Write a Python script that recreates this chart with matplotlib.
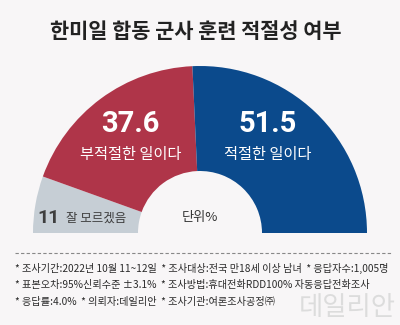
import matplotlib
matplotlib.use('Agg')
import matplotlib.pyplot as plt
from matplotlib.patches import Wedge

plt.rcParams['font.family'] = ['Noto Sans CJK KR', 'DejaVu Sans']

# dataset
labels = ['잘 모르겠음', '부적절한 일이다', '적절한 일이다']
values = [11, 37.6, 51.5]
colors = ['#C6CED5', '#AF3549', '#0B4A8C']
title = '한미일 합동 군사 훈련 적절성 여부'
notes = [
    '* 조사기간:2022년 10월 11~12일  * 조사대상:전국 만18세 이상 남녀  * 응답자수:1,005명',
    '* 표본오차:95%신뢰수준 ±3.1%  * 조사방법:휴대전화RDD100% 자동응답전화조사',
    '* 응답률:4.0%  * 의뢰자:데일리안  * 조사기관:여론조사공정㈜',
]

bg = '#F8F6F7'
fig = plt.figure(figsize=(4, 3.25), dpi=100, facecolor=bg)
ax = fig.add_axes([0, 0, 1, 1])
ax.set_xlim(0, 400)
ax.set_ylim(0, 325)
ax.set_aspect('equal')
ax.axis('off')

# half donut
cx, cy = 200, 325 - 233
r_out, r_in = 167, 62
total = sum(values)
start = 180.0
for v, c in zip(values, colors):
    span = 180.0 * v / total
    ax.add_patch(Wedge((cx, cy), r_out, start - span, start, width=r_out - r_in,
                       facecolor=c, edgecolor='none'))
    start -= span

# title
ax.text(196, 325 - 31, title, ha='center', va='center', fontsize=15,
        fontweight='heavy', color='#222222')

# labels inside slices
ax.text(130, 325 - 124, f'{values[1]}', ha='center', va='center', fontsize=21,
        fontweight='bold', color='white', family='Roboto')
ax.text(131, 325 - 155, labels[1], ha='center', va='center', fontsize=11,
        fontweight='medium', color='white')
ax.text(268, 325 - 124, f'{values[2]}', ha='center', va='center', fontsize=21,
        fontweight='bold', color='white', family='Roboto')
ax.text(268, 325 - 155, labels[2], ha='center', va='center', fontsize=11,
        fontweight='medium', color='white')
ax.text(37, 325 - 218, f'{values[0]:g}', ha='left', va='center', fontsize=14,
        fontweight='bold', color='#3E3E3E', family='Roboto')
ax.text(66, 325 - 218, labels[0], ha='left', va='center', fontsize=9,
        fontweight='medium', color='#3E3E3E')
ax.text(182, 325 - 218, '단위%', ha='left', va='center', fontsize=9.5,
        color='#333333')

# footnotes
ax.plot([15, 392], [325 - 253, 325 - 253], color='#888888', lw=0.8,
        linestyle=(0, (3, 2)))
for i, line in enumerate(notes):
    ax.text(15, 325 - 268 - 17 * i, line, ha='left', va='center', fontsize=7.3,
            color='#2A2A2A')

# watermark (sits below the second note line)
ax.text(396, 325 - 321, '데일리안', ha='right', va='bottom', fontsize=19,
        color='#DCDCDC', zorder=0)

plt.savefig('out.png', dpi=100, facecolor=bg)
